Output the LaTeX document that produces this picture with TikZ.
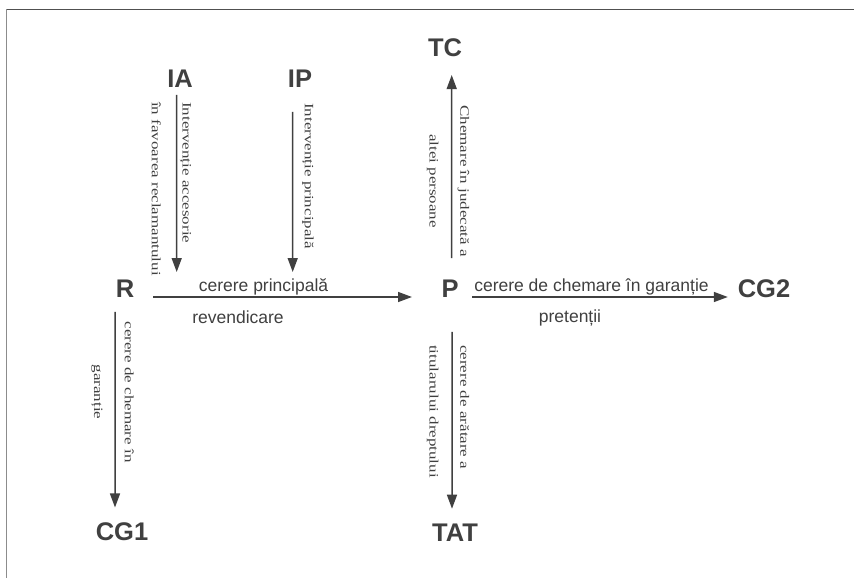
\documentclass[tikz,border=0pt]{standalone}
\usepackage{fontspec}
\setmainfont{Liberation Serif}
\newfontfamily\lsans{Liberation Sans}
\usetikzlibrary{arrows.meta}
\definecolor{ink}{HTML}{404040}
\definecolor{frametop}{HTML}{505050}
\definecolor{frameleft}{HTML}{8C8C8C}
\begin{document}
\begin{tikzpicture}[x=1bp,y=-1bp,
  lab/.style={font=\lsans\bfseries\fontsize{25.5bp}{26bp}\selectfont, text=ink, inner sep=0pt, outer sep=0pt},
  vt/.style={font=\fontsize{17bp}{41bp}\selectfont, text=ink, inner sep=0pt, rotate=-90, yscale=0.75},
  ht/.style={font=\lsans\fontsize{17.5bp}{20bp}\selectfont, text=ink, inner sep=0pt},
  arr/.style={draw=ink, line width=1.5bp, -{Triangle[length=14bp,width=10bp]}}]
\useasboundingbox (0,0) rectangle (854,578);
\fill[white] (0,0) rectangle (854,578);
% frame
\coordinate (fTL) at (6.5,9.5);
\coordinate (fTR) at (854,9.5);
\coordinate (fBL) at (6.5,578);
\draw[frametop, line width=1.5bp] (fTL) -- (fTR);
\draw[frameleft, line width=1.5bp] (fTL) -- (fBL);

% main labels
\node[lab] (IA)  at (180,79)  {IA};
\node[lab] (IP)  at (300,79)  {IP};
\node[lab] (TC)  at (445,48)  {TC};
\node[lab] (R)   at (125,289) {R};
\node[lab] (P)   at (450,289) {P};
\node[lab] (CG2) at (764,289) {CG2};
\node[lab] (CG1) at (122,532) {CG1};
\node[lab] (TAT) at (455,533) {TAT};

% free ends
\coordinate (iaE) at (176.7,272);
\coordinate (ipE) at (292.7,272);

% connectors
\draw[arr, shorten <=7bp] ([xshift=-3.3bp]IA.south) -- (iaE);
\draw[arr, shorten <=24bp] ([xshift=-7.3bp]IP.south) -- (ipE);
\draw[arr, shorten <=22bp, shorten >=18bp] ([xshift=1.7bp]P.north) -- ([xshift=6.7bp]TC.south);
\draw[arr, shorten <=19bp, shorten >=29.5bp] ([yshift=-8bp]R.east) -- ([yshift=-8bp]P.west);
\draw[arr, shorten <=13.5bp, shorten >=10bp] ([yshift=-8bp]P.east) -- ([yshift=-8bp]CG2.west);
\draw[arr, shorten <=14bp, shorten >=15.5bp] ([xshift=-10bp]R.south) -- ([xshift=-7bp]CG1.north);
\draw[arr, shorten <=34bp, shorten >=15.5bp] ([xshift=2bp]P.south) -- ([xshift=-3bp]TAT.north);

% vertical texts
\node[vt, anchor=west, align=left] (tIA) at (171.5,102) {Intervenție accesorie\\în favoarea reclamantului};
\node[vt, anchor=west, align=left] (tIP) at (308,103) {Intervenție principală};
\node[vt, align=center] (tTC) at (448,181) {Chemare în judecată a\\altei persoane};
\node[vt, align=center] (tCG1) at (112.5,392) {cerere de chemare în\\garanție};
\node[vt, anchor=west, align=left] (tTAT) at (448,345) {cerere de arătare a\\titularului dreptului};

% horizontal texts
\node[ht] (t1) at (263.5,287) {cerere principală};
\node[ht] (t2) at (238,317) {revendicare};
\node[ht] (t3) at (591.5,287) {cerere de chemare în garanție};
\node[ht] (t4) at (570,318) {pretenții};
\end{tikzpicture}
\end{document}
